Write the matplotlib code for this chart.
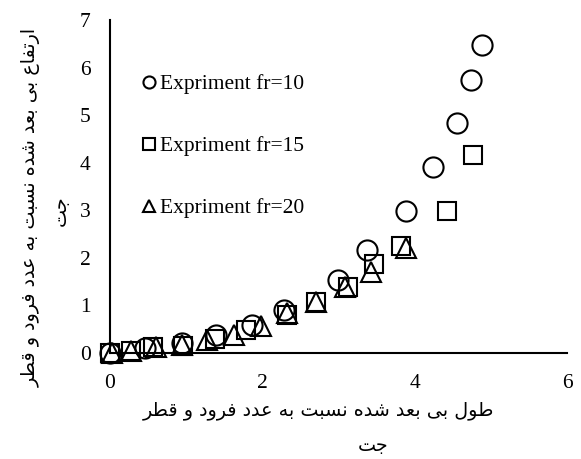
import matplotlib
matplotlib.use("Agg")
import matplotlib.pyplot as plt

# ---------------- data ----------------
x_fr10 = [0.00, 0.46, 0.94, 1.39, 1.86, 2.28, 2.99, 3.38, 3.88, 4.24, 4.56, 4.74, 4.88]
y_fr10 = [0.00, 0.10, 0.21, 0.38, 0.59, 0.90, 1.53, 2.16, 2.98, 3.91, 4.83, 5.73, 6.47]

x_fr15 = [0.00, 0.28, 0.56, 0.96, 1.38, 1.78, 2.32, 2.71, 3.12, 3.47, 3.82, 4.42, 4.76]
y_fr15 = [0.00, 0.04, 0.12, 0.14, 0.29, 0.48, 0.79, 1.07, 1.39, 1.87, 2.25, 2.98, 4.16]

x_fr20 = [0.02, 0.27, 0.60, 0.95, 1.27, 1.63, 1.98, 2.33, 2.71, 3.09, 3.43, 3.88]
y_fr20 = [0.00, 0.04, 0.12, 0.17, 0.27, 0.38, 0.57, 0.84, 1.07, 1.39, 1.71, 2.20]

labels = ["Expriment fr=10", "Expriment fr=15", "Expriment fr=20"]
x_ticks = [0, 2, 4, 6]
y_ticks = [0, 1, 2, 3, 4, 5, 6, 7]
x_title = ["طول بی بعد شده نسبت به عدد فرود و قطر", "جت"]
y_title = ["ارتفاع بی بعد شده نسبت به عدد فرود و قطر", "جت"]

# ------------- simple Arabic-script shaping -------------
FORMS = {  # isolated, final, initial, medial
    'ا': ('\uFE8D', '\uFE8E', None, None),
    'ب': ('\uFE8F', '\uFE90', '\uFE91', '\uFE92'),
    'ت': ('\uFE95', '\uFE96', '\uFE97', '\uFE98'),
    'ج': ('\uFE9D', '\uFE9E', '\uFE9F', '\uFEA0'),
    'د': ('\uFEA9', '\uFEAA', None, None),
    'ر': ('\uFEAD', '\uFEAE', None, None),
    'س': ('\uFEB1', '\uFEB2', '\uFEB3', '\uFEB4'),
    'ش': ('\uFEB5', '\uFEB6', '\uFEB7', '\uFEB8'),
    'ط': ('\uFEC1', '\uFEC2', '\uFEC3', '\uFEC4'),
    'ع': ('\uFEC9', '\uFECA', '\uFECB', '\uFECC'),
    'ف': ('\uFED1', '\uFED2', '\uFED3', '\uFED4'),
    'ق': ('\uFED5', '\uFED6', '\uFED7', '\uFED8'),
    'ل': ('\uFEDD', '\uFEDE', '\uFEDF', '\uFEE0'),
    'ن': ('\uFEE5', '\uFEE6', '\uFEE7', '\uFEE8'),
    'ه': ('\uFEE9', '\uFEEA', '\uFEEB', '\uFEEC'),
    'و': ('\uFEED', '\uFEEE', None, None),
    'ی': ('\uFEEF', '\uFEF0', '\uFEF3', '\uFEF4'),
}


def shape(s):
    out = []
    n = len(s)
    for i, c in enumerate(s):
        if c not in FORMS:
            out.append(c)
            continue
        f = FORMS[c]
        prev = s[i - 1] if i > 0 else None
        nxt = s[i + 1] if i + 1 < n else None
        jp = prev in FORMS and FORMS[prev][2] is not None
        jn = f[2] is not None and nxt in FORMS
        if jp and jn:
            out.append(f[3])
        elif jp:
            out.append(f[1])
        elif jn:
            out.append(f[2])
        else:
            out.append(f[0])
    return "".join(out)[::-1]


# ---------------- figure ----------------
W, H = 581, 459
fig = plt.figure(figsize=(W / 100, H / 100), dpi=100)
ax = fig.add_axes([110 / W, 1 - 353 / H, (567 - 110) / W, (353 - 20) / H])

serif = "Liberation Serif"
mk = dict(linestyle="none", markerfacecolor="none", markeredgecolor="black",
          markeredgewidth=1.5, clip_on=False)
ax.plot(x_fr10, y_fr10, marker="o", markersize=14.5, label=labels[0], **mk)
ax.plot(x_fr15, y_fr15, marker="s", markersize=13.5, label=labels[1], **mk)
ax.plot(x_fr20, y_fr20, marker="^", markersize=14.5, label=labels[2], **mk)

ax.set_xlim(0, 6)
ax.set_ylim(0, 7)
ax.set_xticks(x_ticks)
ax.set_yticks(y_ticks)
ax.set_xticklabels([str(v) for v in x_ticks], fontfamily=serif, fontsize=15.5)
ax.set_yticklabels([str(v) for v in y_ticks], fontfamily=serif, fontsize=15.5)
ax.tick_params(axis="both", length=0)
ax.tick_params(axis="x", pad=15)
ax.tick_params(axis="y", pad=14)
for side in ("top", "right"):
    ax.spines[side].set_visible(False)
for side in ("left", "bottom"):
    ax.spines[side].set_linewidth(1.5)
    ax.spines[side].set_color("black")

leg = ax.legend(loc="upper left", bbox_to_anchor=((144 - 110) / (567 - 110), (353 - 74) / (353 - 20)),
                frameon=False, handlelength=0.5, handletextpad=0.25, labelspacing=1.95,
                markerscale=0.6, borderpad=0, borderaxespad=0,
                prop={"family": serif, "size": 15.5})

# ---------------- Persian axis titles ----------------
target_w = 350.0
fig.canvas.draw()
renderer = fig.canvas.get_renderer()
probe = fig.text(0, 0, shape(x_title[0]), fontfamily="DejaVu Sans", fontsize=12)
ww = probe.get_window_extent(renderer).width
probe.remove()
fs = 12 * target_w / ww

fig.text(318 / W, 1 - 410 / H, shape(x_title[0]), fontfamily="DejaVu Sans",
         fontsize=fs, ha="center", va="center")
fig.text(373 / W, 1 - 446 / H, shape(x_title[1]), fontfamily="DejaVu Sans",
         fontsize=fs, ha="center", va="center")
fig.text(31 / W, 1 - 207 / H, shape(y_title[0]), fontfamily="DejaVu Sans",
         fontsize=fs, ha="center", va="center", rotation=90)
fig.text(60 / W, 1 - 211 / H, shape(y_title[1]), fontfamily="DejaVu Sans",
         fontsize=fs, ha="center", va="center", rotation=90)

fig.savefig("out.png", dpi=100)
